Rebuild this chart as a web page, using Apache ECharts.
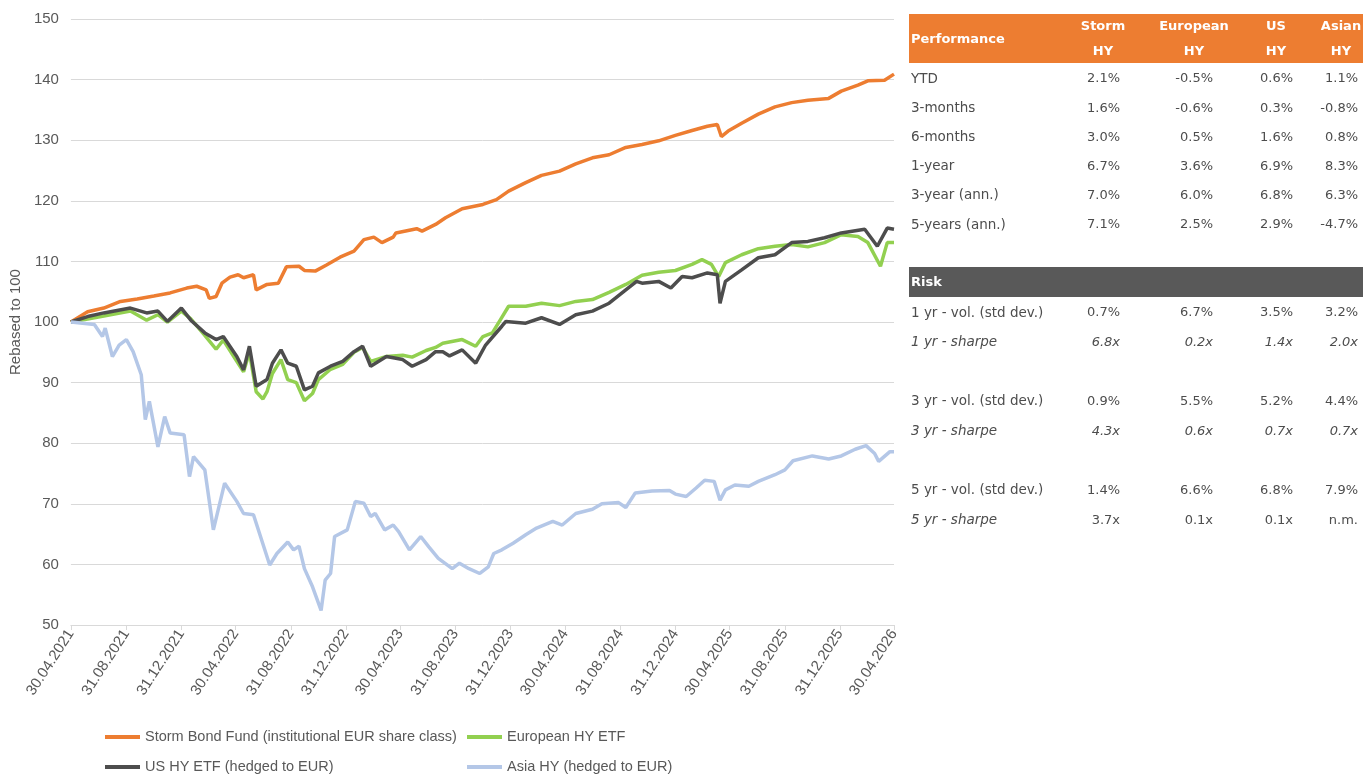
<!DOCTYPE html>
<html>
<head>
<meta charset="utf-8">
<style>
  html, body { margin: 0; padding: 0; background: #fff; }
  #chart { width: 1363px; height: 776px; }
</style>
<script src="https://cdn.jsdelivr.net/npm/echarts@6/dist/echarts.min.js"></script>
</head>
<body>
<div id="chart"></div>
<script>
// x axis ticks (every 4 months)
const tickDates = [
  "2021-04-30", "2021-08-31", "2021-12-31", "2022-04-30", "2022-08-31", "2022-12-31",
  "2023-04-30", "2023-08-31", "2023-12-31", "2024-04-30", "2024-08-31", "2024-12-31",
  "2025-04-30", "2025-08-31", "2025-12-31", "2026-04-30",
];

// Storm Bond Fund (institutional EUR share class)
const stormDates = [
  "2021-04-30", "2021-06-06", "2021-07-12", "2021-08-18", "2021-09-24", "2021-10-31",
  "2021-12-06", "2022-01-12", "2022-02-03", "2022-02-24", "2022-03-03", "2022-03-18",
  "2022-03-31", "2022-04-18", "2022-05-06", "2022-05-18", "2022-06-09", "2022-06-15",
  "2022-07-09", "2022-08-03", "2022-08-21", "2022-09-18", "2022-09-30", "2022-10-24",
  "2022-11-18", "2022-12-18", "2023-01-18", "2023-02-09", "2023-03-03", "2023-03-21",
  "2023-04-15", "2023-04-21", "2023-06-06", "2023-06-18", "2023-07-18", "2023-08-09",
  "2023-09-15", "2023-10-31", "2023-11-30", "2023-12-27", "2024-02-03", "2024-03-09",
  "2024-04-18", "2024-05-24", "2024-06-30", "2024-08-06", "2024-09-12", "2024-10-18",
  "2024-11-24", "2024-12-31", "2025-02-06", "2025-03-12", "2025-04-03", "2025-04-12",
  "2025-04-27", "2025-05-27", "2025-07-03", "2025-08-09", "2025-09-15", "2025-10-21",
  "2025-12-06", "2026-01-03", "2026-02-09", "2026-03-03", "2026-04-09", "2026-04-30",
];
const stormValues = [
  100, 101.7, 102.3, 103.4, 103.8, 104.3,
  104.8, 105.6, 105.9, 105.3, 103.9, 104.2,
  106.4, 107.4, 107.8, 107.3, 107.8, 105.3,
  106.2, 106.4, 109.1, 109.2, 108.5, 108.4,
  109.4, 110.7, 111.7, 113.6, 114.0, 113.1,
  114.0, 114.7, 115.4, 115.0, 116.1, 117.2,
  118.7, 119.4, 120.2, 121.6, 123.0, 124.2,
  124.9, 126.1, 127.1, 127.6, 128.8, 129.3,
  129.9, 130.8, 131.6, 132.3, 132.6, 130.6,
  131.5, 132.8, 134.3, 135.5, 136.2, 136.6,
  136.9, 138.1, 139.1, 139.8, 139.9, 140.9,
];

// European HY ETF
const euroDates = [
  "2021-04-30", "2021-06-06", "2021-07-12", "2021-09-09", "2021-10-15", "2021-11-09",
  "2021-11-30", "2021-12-31", "2022-01-21", "2022-02-21", "2022-03-18", "2022-04-03",
  "2022-05-03", "2022-05-18", "2022-05-31", "2022-06-15", "2022-06-30", "2022-07-09",
  "2022-07-21", "2022-08-09", "2022-08-24", "2022-09-12", "2022-09-30", "2022-10-18",
  "2022-10-31", "2022-11-27", "2022-12-24", "2023-01-18", "2023-02-06", "2023-02-24",
  "2023-03-31", "2023-05-06", "2023-05-27", "2023-06-27", "2023-07-18", "2023-08-03",
  "2023-09-15", "2023-10-15", "2023-10-31", "2023-11-21", "2023-12-09", "2023-12-27",
  "2024-02-03", "2024-03-09", "2024-04-18", "2024-05-24", "2024-06-30", "2024-08-06",
  "2024-09-12", "2024-10-18", "2024-11-24", "2024-12-31", "2025-02-06", "2025-02-28",
  "2025-03-21", "2025-04-06", "2025-04-21", "2025-05-27", "2025-07-03", "2025-08-09",
  "2025-09-15", "2025-10-21", "2025-11-27", "2026-01-03", "2026-02-09", "2026-03-03",
  "2026-03-31", "2026-04-15", "2026-04-30",
];
const euroValues = [
  100, 100.5, 101.0, 101.8, 100.3, 101.2,
  100.0, 101.8, 100.5, 97.8, 95.5, 97.0,
  93.5, 91.8, 95.0, 88.5, 87.3, 88.5,
  91.5, 93.8, 90.5, 90.0, 87.0, 88.2,
  90.5, 92.2, 93.0, 95.0, 95.8, 93.5,
  94.3, 94.5, 94.2, 95.3, 95.8, 96.5,
  97.1, 96.0, 97.6, 98.2, 100.4, 102.6,
  102.6, 103.1, 102.7, 103.4, 103.7, 104.9,
  106.2, 107.7, 108.2, 108.5, 109.5, 110.3,
  109.5, 107.5, 109.8, 111.1, 112.1, 112.5,
  112.8, 112.4, 113.1, 114.4, 114.1, 113.1,
  109.2, 113.1, 113.1,
];

// US HY ETF (hedged to EUR)
const usDates = [
  "2021-04-30", "2021-06-06", "2021-07-12", "2021-09-09", "2021-10-15", "2021-11-09",
  "2021-11-30", "2021-12-31", "2022-01-21", "2022-02-21", "2022-03-18", "2022-04-03",
  "2022-05-03", "2022-05-18", "2022-05-31", "2022-06-15", "2022-07-09", "2022-07-21",
  "2022-08-09", "2022-08-24", "2022-09-12", "2022-09-30", "2022-10-18", "2022-10-31",
  "2022-11-27", "2022-12-24", "2023-01-18", "2023-02-06", "2023-02-24", "2023-03-31",
  "2023-05-06", "2023-05-27", "2023-06-27", "2023-07-18", "2023-08-03", "2023-08-18",
  "2023-09-15", "2023-10-15", "2023-11-06", "2023-12-12", "2023-12-21", "2024-02-03",
  "2024-03-09", "2024-04-18", "2024-05-24", "2024-06-30", "2024-08-06", "2024-09-12",
  "2024-10-06", "2024-10-18", "2024-11-24", "2024-12-21", "2025-01-15", "2025-02-06",
  "2025-03-12", "2025-04-03", "2025-04-09", "2025-04-21", "2025-05-27", "2025-07-03",
  "2025-08-09", "2025-09-15", "2025-10-21", "2025-11-27", "2026-01-03", "2026-02-24",
  "2026-03-24", "2026-04-15", "2026-04-30",
];
const usValues = [
  100, 100.9, 101.5, 102.3, 101.5, 101.8,
  100.1, 102.3, 100.3, 98.2, 97.1, 97.6,
  94.3, 92.1, 96.0, 89.4, 90.5, 93.2,
  95.4, 93.2, 92.7, 88.8, 89.4, 91.6,
  92.7, 93.5, 95.1, 96.0, 92.7, 94.3,
  93.8, 92.7, 93.8, 95.1, 95.1, 94.4,
  95.4, 93.2, 96.2, 99.3, 100.1, 99.8,
  100.7, 99.6, 101.2, 101.8, 103.1, 105.3,
  106.7, 106.4, 106.7, 105.6, 107.5, 107.3,
  108.1, 107.8, 103.1, 106.7, 108.6, 110.6,
  111.1, 113.1, 113.3, 113.9, 114.7, 115.3,
  112.5, 115.5, 115.3,
];

// Asia HY (hedged to EUR)
const asiaDates = [
  "2021-04-30", "2021-06-21", "2021-07-09", "2021-07-15", "2021-07-31", "2021-08-15",
  "2021-08-31", "2021-09-15", "2021-10-03", "2021-10-12", "2021-10-21", "2021-11-09",
  "2021-11-24", "2021-12-06", "2022-01-06", "2022-01-18", "2022-01-27", "2022-02-21",
  "2022-03-12", "2022-04-06", "2022-05-03", "2022-05-18", "2022-06-09", "2022-07-15",
  "2022-07-31", "2022-08-24", "2022-09-06", "2022-09-18", "2022-09-30", "2022-10-18",
  "2022-11-06", "2022-11-15", "2022-11-27", "2022-12-06", "2023-01-03", "2023-01-21",
  "2023-02-09", "2023-02-24", "2023-03-06", "2023-03-27", "2023-04-15", "2023-04-27",
  "2023-05-21", "2023-06-15", "2023-07-03", "2023-07-24", "2023-08-24", "2023-09-09",
  "2023-09-30", "2023-10-24", "2023-11-12", "2023-11-24", "2023-12-12", "2024-01-06",
  "2024-02-03", "2024-02-27", "2024-04-03", "2024-04-24", "2024-05-24", "2024-06-30",
  "2024-07-21", "2024-08-27", "2024-09-12", "2024-10-03", "2024-11-09", "2024-12-18",
  "2024-12-31", "2025-01-24", "2025-02-15", "2025-03-06", "2025-03-27", "2025-04-09",
  "2025-04-21", "2025-05-12", "2025-06-12", "2025-07-03", "2025-08-09", "2025-08-31",
  "2025-09-18", "2025-10-31", "2025-12-06", "2026-01-03", "2026-02-03", "2026-02-27",
  "2026-03-18", "2026-03-27", "2026-04-21", "2026-04-30",
];
const asiaValues = [
  100, 99.6, 97.6, 99.0, 94.3, 96.2,
  97.1, 95.1, 91.3, 83.9, 86.9, 79.4,
  84.4, 81.7, 81.4, 74.5, 77.8, 75.6,
  65.7, 73.4, 70.4, 68.4, 68.2, 59.9,
  61.8, 63.7, 62.4, 63.0, 59.3, 56.3,
  52.4, 57.4, 58.5, 64.6, 65.7, 70.4,
  70.1, 67.9, 68.4, 65.7, 66.5, 65.4,
  62.4, 64.6, 62.9, 61.0, 59.3, 60.2,
  59.3, 58.5, 59.6, 61.8, 62.4, 63.5,
  64.9, 66.0, 67.1, 66.5, 68.4, 69.1,
  70.0, 70.2, 69.4, 71.8, 72.1, 72.2,
  71.6, 71.2, 72.6, 73.9, 73.7, 70.6,
  72.3, 73.1, 72.9, 73.7, 74.8, 75.6,
  77.1, 77.9, 77.4, 77.9, 79.0, 79.6,
  78.3, 77.0, 78.6, 78.6,
];

// performance / risk table
const tableColumns = [["Storm", "HY"], ["European", "HY"], ["US", "HY"], ["Asian", "HY"]];
const perfLabels = ["YTD", "3-months", "6-months", "1-year", "3-year (ann.)", "5-years (ann.)"];
const perfValues = [
  ["2.1%", "-0.5%", "0.6%", "1.1%"],
  ["1.6%", "-0.6%", "0.3%", "-0.8%"],
  ["3.0%", "0.5%", "1.6%", "0.8%"],
  ["6.7%", "3.6%", "6.9%", "8.3%"],
  ["7.0%", "6.0%", "6.8%", "6.3%"],
  ["7.1%", "2.5%", "2.9%", "-4.7%"],
];
const riskLabels = [
  "1 yr - vol. (std dev.)", "1 yr - sharpe", "",
  "3 yr - vol. (std dev.)", "3 yr - sharpe", "",
  "5 yr - vol. (std dev.)", "5 yr - sharpe",
];
const riskValues = [
  ["0.7%", "6.7%", "3.5%", "3.2%"],
  ["6.8x", "0.2x", "1.4x", "2.0x"],
  [],
  ["0.9%", "5.5%", "5.2%", "4.4%"],
  ["4.3x", "0.6x", "0.7x", "0.7x"],
  [],
  ["1.4%", "6.6%", "6.8%", "7.9%"],
  ["3.7x", "0.1x", "0.1x", "n.m."],
];
const riskLabelItalic = [false, true, false, false, true, false, false, true];
const riskValueItalic = [false, true, false, false, true, false, false, false];

// 'YYYY-MM-DD' -> local timestamp
function toTime(s) {
  const p = s.split("-");
  return new Date(+p[0], +p[1] - 1, +p[2]).getTime();
}
function fmtDate(val) {
  const d = new Date(val);
  const dd = String(d.getDate()).padStart(2, "0");
  const mm = String(d.getMonth() + 1).padStart(2, "0");
  return dd + "." + mm + "." + d.getFullYear();
}
function pairs(dates, values) {
  return dates.map((d, i) => [toTime(d), values[i]]);
}

const chart = echarts.init(document.getElementById("chart"));
const axisFont = "Liberation Sans";
const tableFont = "DejaVu Sans";
const textColor = "#595959";
const cellColor = "#4d4d4d";

const seriesNames = [
  "Storm Bond Fund (institutional EUR share class)",
  "European HY ETF",
  "US HY ETF (hedged to EUR)",
  "Asia HY (hedged to EUR)",
];
const seriesColors = ["#ED7D31", "#92D050", "#4D4D4D", "#B4C7E7"];

function lineSeries(name, data, color) {
  return {
    name: name,
    type: "line",
    data: data,
    showSymbol: false,
    symbol: "none",
    lineStyle: { color: color, width: 3.5 },
    itemStyle: { color: color },
    emphasis: { disabled: true },
  };
}

// table graphics
const colCenter = [1103, 1194, 1276, 1341];
const colRight = [1120, 1213, 1293, 1358];
const tableLeft = 911;
const graphics = [];

function cell(text, x, y, opts) {
  graphics.push({
    type: "text",
    x: x,
    y: y,
    silent: true,
    style: Object.assign(
      {
        text: text,
        fill: cellColor,
        fontFamily: tableFont,
        fontSize: 13,
        align: "left",
        verticalAlign: "middle",
      },
      opts || {}
    ),
  });
}

graphics.push({
  type: "rect",
  shape: { x: 909, y: 14, width: 460, height: 49 },
  style: { fill: "#ED7D31" },
});
cell("Performance", tableLeft, 40, { fill: "#fff", fontWeight: "bold" });
tableColumns.forEach((c, j) => {
  cell(c[0], colCenter[j], 27, { fill: "#fff", fontWeight: "bold", align: "center" });
  cell(c[1], colCenter[j], 52, { fill: "#fff", fontWeight: "bold", align: "center" });
});
perfLabels.forEach((label, i) => {
  const y = 79 + i * 29.2;
  cell(label, tableLeft, y, { fontSize: 13.5 });
  perfValues[i].forEach((v, j) => cell(v, colRight[j], y, { align: "right" }));
});

graphics.push({
  type: "rect",
  shape: { x: 909, y: 267, width: 460, height: 30 },
  style: { fill: "#595959" },
});
cell("Risk", tableLeft, 283, { fill: "#fff", fontWeight: "bold" });
riskLabels.forEach((label, i) => {
  const y = 313 + i * 29.6;
  if (label) {
    cell(label, tableLeft, y, {
      fontSize: 13.5,
      fontStyle: riskLabelItalic[i] ? "italic" : "normal",
    });
  }
  riskValues[i].forEach((v, j) =>
    cell(v, colRight[j], y, {
      align: "right",
      fontStyle: riskValueItalic[i] ? "italic" : "normal",
    })
  );
});

// one legend per item so the two columns line up like the original
const legendPos = [[105, 729], [467, 729], [105, 759], [467, 759]];
const legends = seriesNames.map((name, i) => ({
  left: legendPos[i][0],
  top: legendPos[i][1],
  padding: 0,
  itemWidth: 35,
  itemHeight: 4,
  itemGap: 0,
  icon: "rect",
  textStyle: { color: textColor, fontFamily: axisFont, fontSize: 14.5, lineHeight: 16 },
  data: [name],
}));

const tickTimes = tickDates.map(toTime);

const option = {
  animation: false,
  color: seriesColors,
  grid: { left: 67, right: 469, top: 19, bottom: 151 },
  legend: legends,
  xAxis: {
    type: "value",
    min: tickTimes[0],
    max: tickTimes[tickTimes.length - 1],
    axisLine: { lineStyle: { color: "#d9d9d9", width: 1 } },
    axisTick: {
      show: true,
      length: 5,
      lineStyle: { color: "#d9d9d9" },
      customValues: tickTimes,
    },
    axisLabel: {
      rotate: 57,
      margin: 6,
      color: textColor,
      fontFamily: axisFont,
      fontSize: 15,
      customValues: tickTimes,
      formatter: fmtDate,
    },
    splitLine: { show: false },
  },
  yAxis: {
    type: "value",
    min: 50,
    max: 150,
    interval: 10,
    name: "Rebased to 100",
    nameLocation: "middle",
    nameGap: 37,
    nameTextStyle: { color: textColor, fontFamily: axisFont, fontSize: 15 },
    axisLine: { show: false },
    axisTick: { show: false },
    axisLabel: { color: textColor, fontFamily: axisFont, fontSize: 15, margin: 12 },
    splitLine: { lineStyle: { color: "#d9d9d9", width: 1 } },
  },
  graphic: graphics,
  series: [
    lineSeries(seriesNames[0], pairs(stormDates, stormValues), seriesColors[0]),
    lineSeries(seriesNames[1], pairs(euroDates, euroValues), seriesColors[1]),
    lineSeries(seriesNames[2], pairs(usDates, usValues), seriesColors[2]),
    lineSeries(seriesNames[3], pairs(asiaDates, asiaValues), seriesColors[3]),
  ],
};
chart.setOption(option);
</script>
</body>
</html>
